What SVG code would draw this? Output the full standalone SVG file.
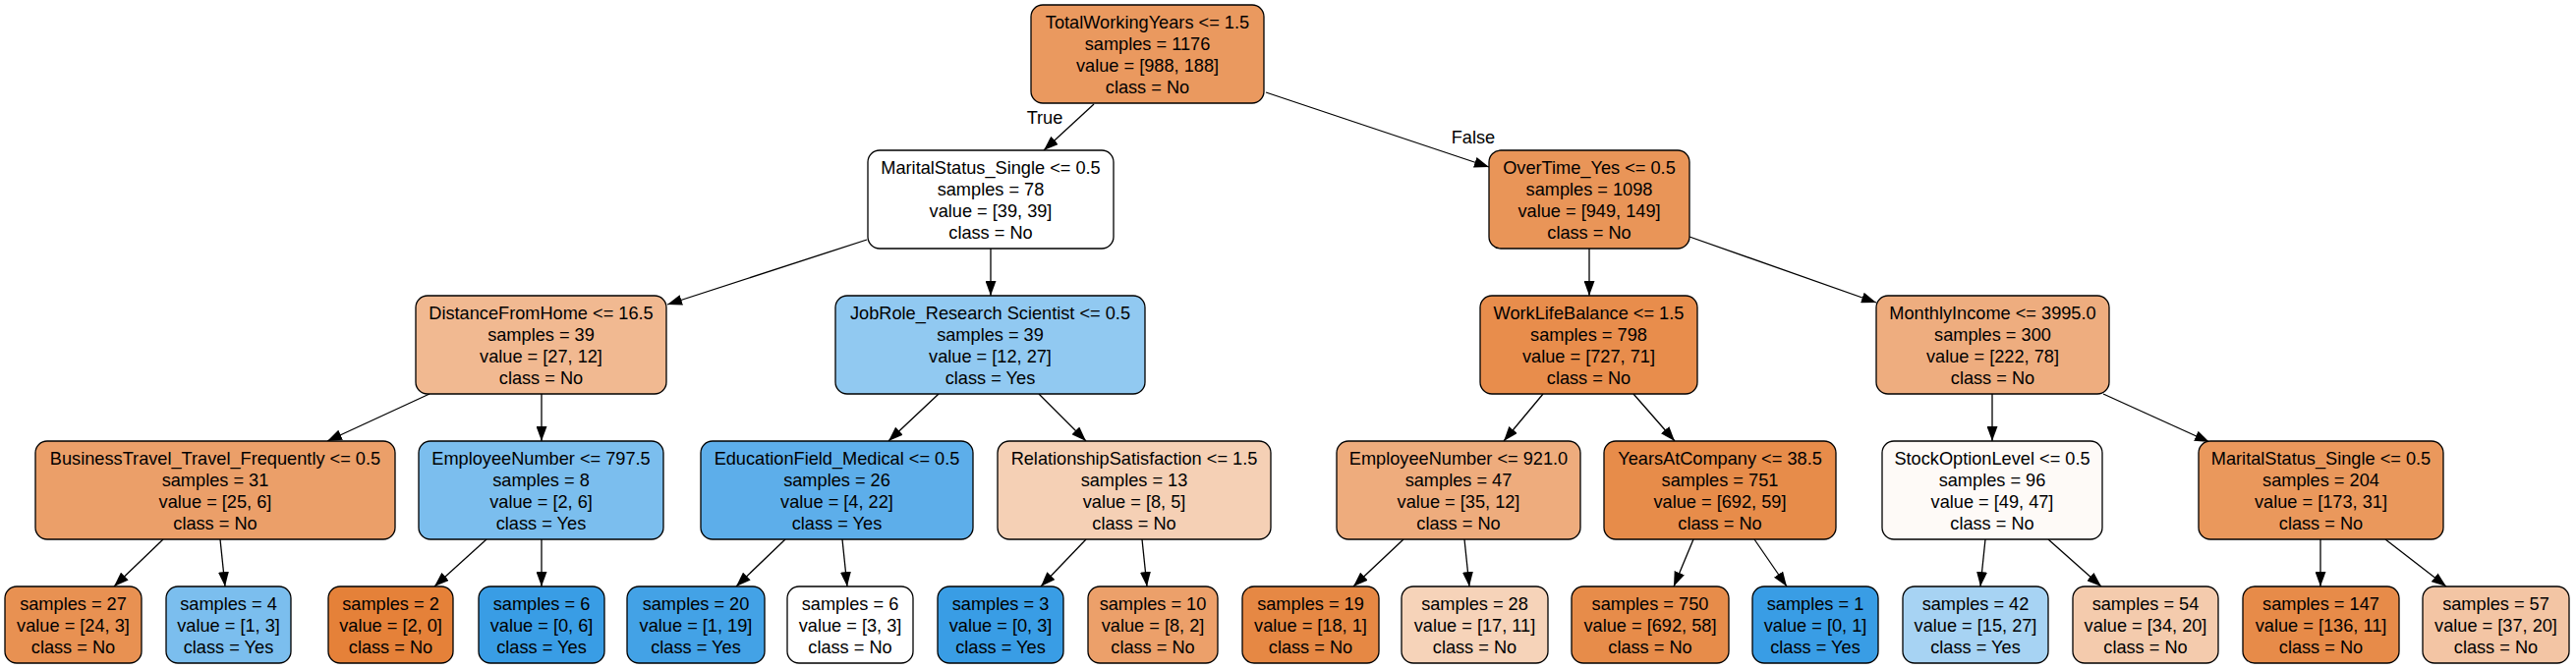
<svg xmlns="http://www.w3.org/2000/svg" width="2621" height="681" viewBox="0 0 2621 681">
<style>
.n rect{stroke:#000;stroke-width:1.3}
text{font-family:"Liberation Sans",Arial,Helvetica,sans-serif;font-size:18.2px;fill:#000;text-anchor:middle}
.e line{stroke:#000;stroke-width:1.3;marker-end:url(#ah)}
</style>
<defs>
<marker id="ah" markerUnits="userSpaceOnUse" markerWidth="15" markerHeight="11" refX="15" refY="5.5" orient="auto"><path d="M0,0 L15,5.5 L0,11 z" fill="#000"/></marker>
</defs>
<rect width="2621" height="681" fill="#fff"/>
<g id="edges" class="e">
<line x1="1113" y1="106" x2="1062" y2="153"/>
<line x1="1288" y1="94" x2="1515" y2="170"/>
<line x1="882" y1="244" x2="679" y2="310"/>
<line x1="1008" y1="253" x2="1008" y2="301"/>
<line x1="437" y1="401" x2="333" y2="449"/>
<line x1="551" y1="401" x2="551" y2="449"/>
<line x1="166" y1="549" x2="116" y2="597"/>
<line x1="224" y1="549" x2="229" y2="597"/>
<line x1="495" y1="549" x2="442" y2="597"/>
<line x1="551" y1="549" x2="551" y2="597"/>
<line x1="955" y1="401" x2="904" y2="449"/>
<line x1="1057" y1="401" x2="1105" y2="449"/>
<line x1="799" y1="549" x2="749" y2="597"/>
<line x1="857" y1="549" x2="862" y2="597"/>
<line x1="1105" y1="549" x2="1059" y2="597"/>
<line x1="1162" y1="549" x2="1167" y2="597"/>
<line x1="1617" y1="253" x2="1617" y2="301"/>
<line x1="1719" y1="241" x2="1909" y2="308"/>
<line x1="1570" y1="401" x2="1530" y2="449"/>
<line x1="1662" y1="401" x2="1704" y2="449"/>
<line x1="1428" y1="549" x2="1377" y2="597"/>
<line x1="1490" y1="549" x2="1495" y2="597"/>
<line x1="1723" y1="549" x2="1703" y2="597"/>
<line x1="1785" y1="549" x2="1818" y2="597"/>
<line x1="2027" y1="401" x2="2027" y2="449"/>
<line x1="2140" y1="401" x2="2248" y2="450"/>
<line x1="2020" y1="549" x2="2015" y2="597"/>
<line x1="2084" y1="549" x2="2138" y2="597"/>
<line x1="2361" y1="549" x2="2361" y2="597"/>
<line x1="2427" y1="549" x2="2489" y2="597"/>
<text x="1063" y="126">True</text>
<text x="1499" y="146">False</text>
</g>
<g id="n0" class="n"><rect x="1049" y="5" width="237" height="100" rx="12" fill="#ea995f"/><text x="1167.5" y="28.5">TotalWorkingYears &lt;= 1.5</text><text x="1167.5" y="50.5">samples = 1176</text><text x="1167.5" y="72.5">value = [988, 188]</text><text x="1167.5" y="94.5">class = No</text></g>
<g id="n1" class="n"><rect x="883" y="153" width="250" height="100" rx="12" fill="#ffffff"/><text x="1008" y="176.5">MaritalStatus_Single &lt;= 0.5</text><text x="1008" y="198.5">samples = 78</text><text x="1008" y="220.5">value = [39, 39]</text><text x="1008" y="242.5">class = No</text></g>
<g id="n2" class="n"><rect x="423" y="301" width="255" height="100" rx="12" fill="#f1b991"/><text x="550.5" y="324.5">DistanceFromHome &lt;= 16.5</text><text x="550.5" y="346.5">samples = 39</text><text x="550.5" y="368.5">value = [27, 12]</text><text x="550.5" y="390.5">class = No</text></g>
<g id="n3" class="n"><rect x="36" y="449" width="366" height="100" rx="12" fill="#eb9f69"/><text x="219" y="472.5">BusinessTravel_Travel_Frequently &lt;= 0.5</text><text x="219" y="494.5">samples = 31</text><text x="219" y="516.5">value = [25, 6]</text><text x="219" y="538.5">class = No</text></g>
<g id="n4" class="n"><rect x="5" y="597" width="139" height="78" rx="12" fill="#e89152"/><text x="74.5" y="620.5">samples = 27</text><text x="74.5" y="642.5">value = [24, 3]</text><text x="74.5" y="664.5">class = No</text></g>
<g id="n5" class="n"><rect x="169" y="597" width="127" height="78" rx="12" fill="#7bbeee"/><text x="232.5" y="620.5">samples = 4</text><text x="232.5" y="642.5">value = [1, 3]</text><text x="232.5" y="664.5">class = Yes</text></g>
<g id="n6" class="n"><rect x="426" y="449" width="249" height="100" rx="12" fill="#7bbeee"/><text x="550.5" y="472.5">EmployeeNumber &lt;= 797.5</text><text x="550.5" y="494.5">samples = 8</text><text x="550.5" y="516.5">value = [2, 6]</text><text x="550.5" y="538.5">class = Yes</text></g>
<g id="n7" class="n"><rect x="334" y="597" width="127" height="78" rx="12" fill="#e58139"/><text x="397.5" y="620.5">samples = 2</text><text x="397.5" y="642.5">value = [2, 0]</text><text x="397.5" y="664.5">class = No</text></g>
<g id="n8" class="n"><rect x="487" y="597" width="128" height="78" rx="12" fill="#399de5"/><text x="551" y="620.5">samples = 6</text><text x="551" y="642.5">value = [0, 6]</text><text x="551" y="664.5">class = Yes</text></g>
<g id="n9" class="n"><rect x="850" y="301" width="315" height="100" rx="12" fill="#91c9f1"/><text x="1007.5" y="324.5">JobRole_Research Scientist &lt;= 0.5</text><text x="1007.5" y="346.5">samples = 39</text><text x="1007.5" y="368.5">value = [12, 27]</text><text x="1007.5" y="390.5">class = Yes</text></g>
<g id="n10" class="n"><rect x="713" y="449" width="277" height="100" rx="12" fill="#5daeea"/><text x="851.5" y="472.5">EducationField_Medical &lt;= 0.5</text><text x="851.5" y="494.5">samples = 26</text><text x="851.5" y="516.5">value = [4, 22]</text><text x="851.5" y="538.5">class = Yes</text></g>
<g id="n11" class="n"><rect x="638" y="597" width="140" height="78" rx="12" fill="#43a2e6"/><text x="708" y="620.5">samples = 20</text><text x="708" y="642.5">value = [1, 19]</text><text x="708" y="664.5">class = Yes</text></g>
<g id="n12" class="n"><rect x="801" y="597" width="128" height="78" rx="12" fill="#ffffff"/><text x="865" y="620.5">samples = 6</text><text x="865" y="642.5">value = [3, 3]</text><text x="865" y="664.5">class = No</text></g>
<g id="n13" class="n"><rect x="1015" y="449" width="278" height="100" rx="12" fill="#f5d0b5"/><text x="1154" y="472.5">RelationshipSatisfaction &lt;= 1.5</text><text x="1154" y="494.5">samples = 13</text><text x="1154" y="516.5">value = [8, 5]</text><text x="1154" y="538.5">class = No</text></g>
<g id="n14" class="n"><rect x="954" y="597" width="128" height="78" rx="12" fill="#399de5"/><text x="1018" y="620.5">samples = 3</text><text x="1018" y="642.5">value = [0, 3]</text><text x="1018" y="664.5">class = Yes</text></g>
<g id="n15" class="n"><rect x="1107" y="597" width="132" height="78" rx="12" fill="#eca06a"/><text x="1173" y="620.5">samples = 10</text><text x="1173" y="642.5">value = [8, 2]</text><text x="1173" y="664.5">class = No</text></g>
<g id="n16" class="n"><rect x="1515" y="153" width="204" height="100" rx="12" fill="#e99558"/><text x="1617" y="176.5">OverTime_Yes &lt;= 0.5</text><text x="1617" y="198.5">samples = 1098</text><text x="1617" y="220.5">value = [949, 149]</text><text x="1617" y="242.5">class = No</text></g>
<g id="n17" class="n"><rect x="1506" y="301" width="221" height="100" rx="12" fill="#e88d4c"/><text x="1616.5" y="324.5">WorkLifeBalance &lt;= 1.5</text><text x="1616.5" y="346.5">samples = 798</text><text x="1616.5" y="368.5">value = [727, 71]</text><text x="1616.5" y="390.5">class = No</text></g>
<g id="n18" class="n"><rect x="1360" y="449" width="248" height="100" rx="12" fill="#eeac7d"/><text x="1484" y="472.5">EmployeeNumber &lt;= 921.0</text><text x="1484" y="494.5">samples = 47</text><text x="1484" y="516.5">value = [35, 12]</text><text x="1484" y="538.5">class = No</text></g>
<g id="n19" class="n"><rect x="1264" y="597" width="139" height="78" rx="12" fill="#e68844"/><text x="1333.5" y="620.5">samples = 19</text><text x="1333.5" y="642.5">value = [18, 1]</text><text x="1333.5" y="664.5">class = No</text></g>
<g id="n20" class="n"><rect x="1426" y="597" width="149" height="78" rx="12" fill="#f6d3b9"/><text x="1500.5" y="620.5">samples = 28</text><text x="1500.5" y="642.5">value = [17, 11]</text><text x="1500.5" y="664.5">class = No</text></g>
<g id="n21" class="n"><rect x="1632" y="449" width="236" height="100" rx="12" fill="#e78c4a"/><text x="1750" y="472.5">YearsAtCompany &lt;= 38.5</text><text x="1750" y="494.5">samples = 751</text><text x="1750" y="516.5">value = [692, 59]</text><text x="1750" y="538.5">class = No</text></g>
<g id="n22" class="n"><rect x="1599" y="597" width="160" height="78" rx="12" fill="#e78c4a"/><text x="1679" y="620.5">samples = 750</text><text x="1679" y="642.5">value = [692, 58]</text><text x="1679" y="664.5">class = No</text></g>
<g id="n23" class="n"><rect x="1783" y="597" width="128" height="78" rx="12" fill="#399de5"/><text x="1847" y="620.5">samples = 1</text><text x="1847" y="642.5">value = [0, 1]</text><text x="1847" y="664.5">class = Yes</text></g>
<g id="n24" class="n"><rect x="1909" y="301" width="237" height="100" rx="12" fill="#eead7f"/><text x="2027.5" y="324.5">MonthlyIncome &lt;= 3995.0</text><text x="2027.5" y="346.5">samples = 300</text><text x="2027.5" y="368.5">value = [222, 78]</text><text x="2027.5" y="390.5">class = No</text></g>
<g id="n25" class="n"><rect x="1915" y="449" width="224" height="100" rx="12" fill="#fefaf7"/><text x="2027" y="472.5">StockOptionLevel &lt;= 0.5</text><text x="2027" y="494.5">samples = 96</text><text x="2027" y="516.5">value = [49, 47]</text><text x="2027" y="538.5">class = No</text></g>
<g id="n26" class="n"><rect x="1936" y="597" width="148" height="78" rx="12" fill="#a7d3f3"/><text x="2010" y="620.5">samples = 42</text><text x="2010" y="642.5">value = [15, 27]</text><text x="2010" y="664.5">class = Yes</text></g>
<g id="n27" class="n"><rect x="2109" y="597" width="148" height="78" rx="12" fill="#f4cbad"/><text x="2183" y="620.5">samples = 54</text><text x="2183" y="642.5">value = [34, 20]</text><text x="2183" y="664.5">class = No</text></g>
<g id="n28" class="n"><rect x="2237" y="449" width="249" height="100" rx="12" fill="#ea985c"/><text x="2361.5" y="472.5">MaritalStatus_Single &lt;= 0.5</text><text x="2361.5" y="494.5">samples = 204</text><text x="2361.5" y="516.5">value = [173, 31]</text><text x="2361.5" y="538.5">class = No</text></g>
<g id="n29" class="n"><rect x="2282" y="597" width="159" height="78" rx="12" fill="#e78b49"/><text x="2361.5" y="620.5">samples = 147</text><text x="2361.5" y="642.5">value = [136, 11]</text><text x="2361.5" y="664.5">class = No</text></g>
<g id="n30" class="n"><rect x="2465" y="597" width="149" height="78" rx="12" fill="#f3c5a4"/><text x="2539.5" y="620.5">samples = 57</text><text x="2539.5" y="642.5">value = [37, 20]</text><text x="2539.5" y="664.5">class = No</text></g>
</svg>
